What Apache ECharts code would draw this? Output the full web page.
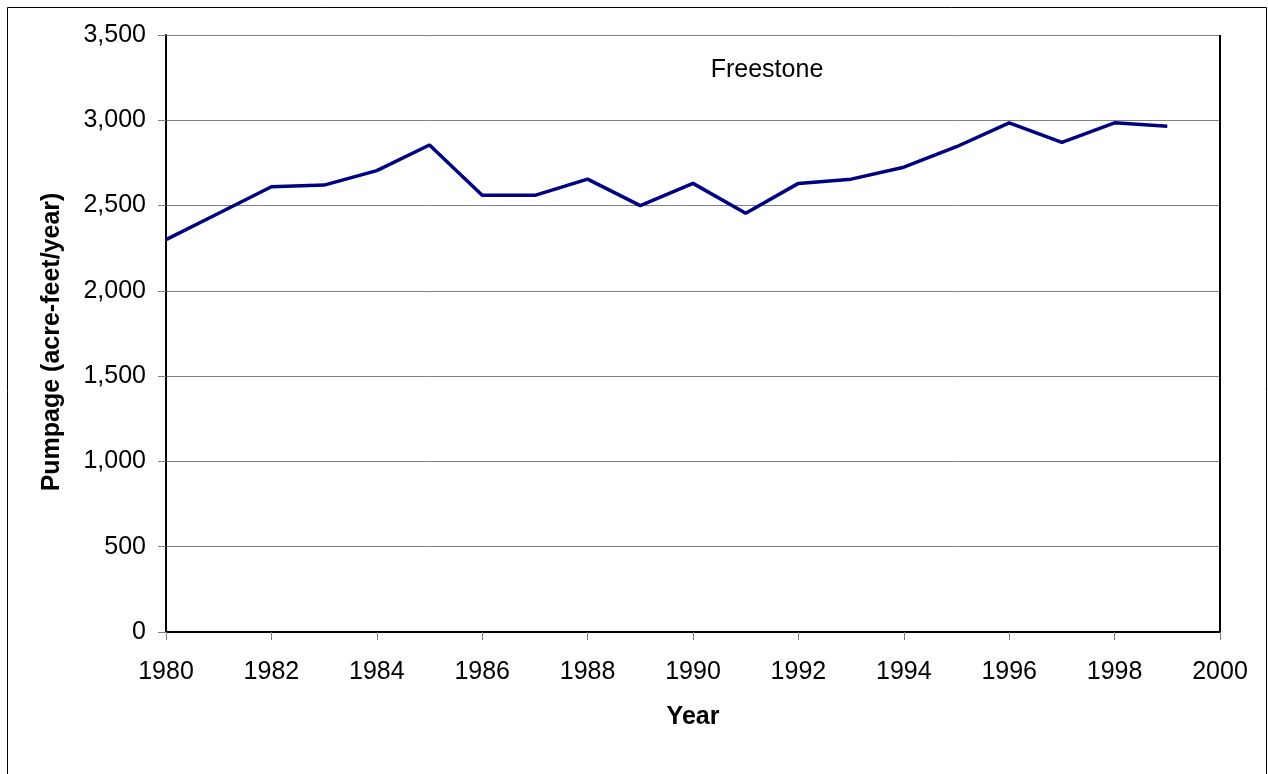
<!DOCTYPE html>
<html>
<head>
<meta charset="utf-8">
<script src="https://cdn.jsdelivr.net/npm/echarts@6/dist/echarts.min.js"></script>
<style>html,body{margin:0;padding:0;background:#fff}#c{width:1268px;height:774px}</style>
</head>
<body>
<div id="c"></div>
<script>
const years = [1980,1981,1982,1983,1984,1985,1986,1987,1988,1989,1990,1991,1992,1993,1994,1995,1996,1997,1998,1999];
const pumpage = [2300,2455,2610,2620,2705,2855,2560,2560,2655,2500,2630,2455,2630,2655,2725,2845,2985,2870,2985,2965];
const chartTitle = 'Freestone';
const xName = 'Year';
const yName = 'Pumpage (acre-feet/year)';

const FONT = '"Liberation Sans", Arial, sans-serif';
const chart = echarts.init(document.getElementById('c'), null, {renderer:'canvas'});
chart.setOption({
  animation: false,
  backgroundColor: '#fff',
  grid: {left:166, top:35, right:48, bottom:142, show:false},
  graphic: [
    {type:'rect', shape:{x:7.5, y:7.5, width:1259, height:800}, style:{fill:'none', stroke:'#000', lineWidth:1}, z:-1},
    {type:'line', shape:{x1:1220, y1:35, x2:1220, y2:632}, style:{stroke:'#000', lineWidth:2}, z:10},
    {type:'text', x:767, y:70, style:{text:chartTitle, font:'25px '+FONT, fill:'#000', align:'center', verticalAlign:'middle'}},
    {type:'text', x:52, y:342, rotation:Math.PI/2, style:{text:yName, font:'bold 25px '+FONT, fill:'#000', align:'center', verticalAlign:'middle'}}
  ],
  xAxis: {
    type:'value', min:1980, max:2000, interval:2,
    name:xName, nameLocation:'middle', nameGap:73,
    nameTextStyle:{fontFamily:FONT, fontSize:25, fontWeight:'bold', color:'#000'},
    axisLine:{show:true, onZero:false, lineStyle:{color:'#000', width:2}},
    axisTick:{show:true, length:8, lineStyle:{color:'#808080', width:1}},
    axisLabel:{margin:28, fontFamily:FONT, fontSize:25, color:'#000', formatter:v=>String(v)},
    splitLine:{show:false}
  },
  yAxis: {
    type:'value', min:0, max:3500, interval:500,
    axisLine:{show:true, lineStyle:{color:'#000', width:2}},
    axisTick:{show:true, length:8, lineStyle:{color:'#808080', width:1}},
    axisLabel:{margin:20, fontFamily:FONT, fontSize:25, color:'#000', formatter:v=>v.toLocaleString('en-US')},
    splitLine:{show:true, lineStyle:{color:'#808080', width:1}}
  },
  series: [{
    type:'line',
    data: years.map((y,i)=>[y, pumpage[i]]),
    showSymbol:false, symbol:'none',
    lineStyle:{color:'#000080', width:3.5},
    z:5
  }]
});
</script>
</body>
</html>
